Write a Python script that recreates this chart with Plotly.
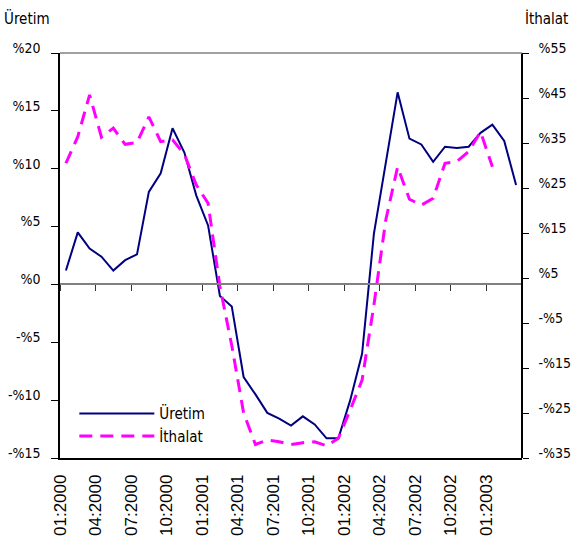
import plotly.graph_objects as go

# monthly series, 01:2000 onwards
uretim = [1.2, 4.5, 3.1, 2.4, 1.2, 2.1, 2.6, 8.0, 9.6, 13.5, 11.4, 7.7, 5.1,
          -1.0, -1.9, -8.0, -9.5, -11.1, -11.6, -12.2, -11.4, -12.1, -13.3, -13.3,
          -10.0, -6.0, 4.4, 10.4, 16.6, 12.6, 12.1, 10.6, 11.9, 11.8, 11.9, 13.1,
          13.8, 12.4, 8.6]
ithalat = [30.5, 36.4, 45.7, 36.3, 38.3, 34.7, 35.1, 40.8, 35.3, 35.7, 32.5, 25.7,
           21.6, 3.1, -10.0, -25.0, -32.0, -31.0, -31.4, -32.0, -31.6, -31.4, -32.3,
           -30.6, -24.3, -17.7, -1.0, 17.9, 29.7, 22.5, 21.2, 22.7, 30.5, 30.9, 33.1,
           37.5, 29.7]
tick_labels = ["01:2000", "04:2000", "07:2000", "10:2000", "01:2001", "04:2001",
               "07:2001", "10:2001", "01:2002", "04:2002", "07:2002", "10:2002",
               "01:2003"]
left_ticks = [20, 15, 10, 5, 0, -5, -10, -15]
right_ticks = [55, 45, 35, 25, 15, 5, -5, -15, -25, -35]

def pct(v):
    return "%" + str(v) if v >= 0 else "-%" + str(-v)

n = len(uretim)
xr = [-0.5, n - 0.5]
tickpos = [i - 0.5 for i in range(0, 3 * len(tick_labels), 3)]
lr = [min(left_ticks), max(left_ticks)]
rr = [min(right_ticks), max(right_ticks)]

fig = go.Figure()
fig.add_trace(go.Scatter(x=list(range(n)), y=uretim, name="Üretim", mode="lines",
                         line=dict(color="#000080", width=2)))
fig.add_trace(go.Scatter(x=list(range(len(ithalat))), y=ithalat, name="İthalat",
                         mode="lines", xaxis="x2", yaxis="y2",
                         line=dict(color="#FF00FF", width=3, dash="13px,8px")))

fam = "DejaVu Sans Condensed, DejaVu Sans"
tickfont = dict(family=fam, size=14, color="black")

fig.update_layout(
    width=573, height=545,
    margin=dict(l=60, r=51, t=53, b=87),
    paper_bgcolor="white", plot_bgcolor="white",
    font=dict(family=fam, size=14, color="black"),
    showlegend=True,
    legend=dict(x=0.031, y=0.15, xanchor="left", yanchor="top",
                bgcolor="rgba(0,0,0,0)", itemwidth=75, tracegroupgap=0,
                font=dict(size=15)),
    xaxis=dict(range=xr, tickmode="array", tickvals=tickpos, ticktext=tick_labels,
               tickangle=-90, ticks="", showgrid=False, zeroline=False,
               showline=True, linecolor="black", linewidth=1.5, automargin=False,
               ticklabelstandoff=8,
               tickfont=dict(family="Liberation Sans, Arial", size=17, color="black")),
    xaxis2=dict(range=xr, overlaying="x", anchor="free",
                position=(0 - lr[0]) / (lr[1] - lr[0]),
                tickmode="array", tickvals=tickpos, ticks="outside", ticklen=6,
                tickcolor="#333333", showticklabels=False, showgrid=False,
                zeroline=False, showline=True, linecolor="#808080", linewidth=1.5,
                automargin=False),
    yaxis=dict(range=lr, tickmode="array", tickvals=left_ticks,
               ticktext=[pct(v) for v in left_ticks], ticks="outside", ticklen=7,
               tickcolor="black", showgrid=False, zeroline=False, showline=True,
               linecolor="black", linewidth=1.5, tickfont=tickfont, automargin=False,
               ticklabelshift=-5, ticklabelstandoff=8),
    yaxis2=dict(range=rr, overlaying="y", side="right", anchor="free", position=1,
                tickmode="array", tickvals=right_ticks,
                ticktext=[pct(v) for v in right_ticks], ticks="outside", ticklen=6,
                tickcolor="black", showgrid=False, zeroline=False, showline=True,
                linecolor="black", linewidth=1.5, tickfont=tickfont, automargin=False,
                ticklabelshift=-5, ticklabelstandoff=7),
    shapes=[dict(type="line", xref="paper", yref="paper", x0=0, x1=1, y0=1, y1=1,
                 line=dict(color="#808080", width=1.5))],
    annotations=[
        dict(text="Üretim", xref="paper", yref="paper", x=-58 / 462, y=1 + 35 / 405,
             xanchor="left", yanchor="middle", showarrow=False, font=dict(size=15)),
        dict(text="İthalat", xref="paper", yref="paper", x=1 + 48 / 462, y=1 + 35 / 405,
             xanchor="right", yanchor="middle", showarrow=False, font=dict(size=15)),
    ],
)

# page body has a default 8px margin; drop it so the figure sits at 0,0
fig.write_html("out.html", config={"displayModeBar": False},
               post_script="document.body.style.margin='0px';")
